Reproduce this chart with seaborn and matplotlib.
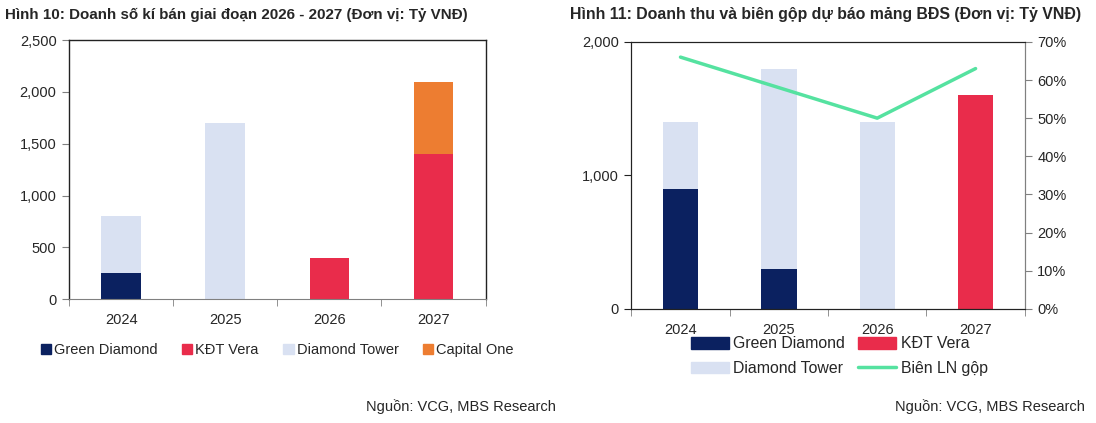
"""Hình 10 / Hình 11: doanh số kí bán và doanh thu BĐS VCG"""
import matplotlib
matplotlib.use("Agg")
import matplotlib.pyplot as plt
import seaborn as sns
import numpy as np
import pandas as pd
from matplotlib.patches import Patch
from matplotlib.lines import Line2D
from matplotlib.ticker import FuncFormatter, FixedLocator

sns.set_style("white")
plt.rcParams["font.family"] = ["Liberation Sans", "DejaVu Sans"]

years = ["2024", "2025", "2026", "2027"]

# Hình 10 - doanh số kí bán (tỷ VND)
sales_green = [250, 0, 0, 0]
sales_vera = [0, 0, 400, 1400]
sales_tower = [550, 1700, 0, 0]
sales_capital = [0, 0, 0, 700]

# Hình 11 - doanh thu (tỷ VND) và biên gộp
rev_green = [900, 300, 0, 0]
rev_vera = [0, 0, 0, 1600]
rev_tower = [500, 1500, 1400, 0]
margin = [0.66, 0.58, 0.50, 0.63]

C_GREEN = "#0B2160"
C_VERA = "#E92C4B"
C_TOWER = "#D9E1F2"
C_CAP = "#ED7D31"
C_LINE = "#55E2A0"


def stacked(ax, layers, width):
    # layers bottom-up: draw cumulative totals from tallest down
    cum = np.cumsum(np.array([l[0] for l in layers], dtype=float), axis=0)
    for i in range(len(layers) - 1, -1, -1):
        df = pd.DataFrame({"year": years, "val": cum[i]})
        sns.barplot(data=df, x="year", y="val", color=layers[i][1], width=width,
                    saturation=1, ax=ax, order=years, linewidth=0, edgecolor="none")


def style_x(ax):
    ax.set_xlim(-0.5, 3.5)
    ax.xaxis.set_minor_locator(FixedLocator([-0.5, 0.5, 1.5, 2.5, 3.5]))
    ax.tick_params(axis="x", which="major", length=0, pad=10, labelsize=10.5)
    ax.tick_params(axis="x", which="minor", length=5, color="#808080", bottom=True)
    ax.set_xlabel("")


fig = plt.figure(figsize=(10.96, 4.23), dpi=100)
fmt = FuncFormatter(lambda v, p: f"{v:,.0f}")

# ---- left chart
ax1 = fig.add_axes([0.063, 0.293, 0.380, 0.612])
stacked(ax1, [(sales_green, C_GREEN), (sales_vera, C_VERA),
              (sales_tower, C_TOWER), (sales_capital, C_CAP)], 0.38)
ax1.set_ylim(0, 2500)
ax1.set_yticks(range(0, 2501, 500))
ax1.yaxis.set_major_formatter(fmt)
ax1.set_ylabel("")
ax1.tick_params(axis="y", left=True, length=5, color="#808080", labelsize=10.5, pad=4)
style_x(ax1)
for s in ["top", "right", "left"]:
    ax1.spines[s].set_color("#222222")
    ax1.spines[s].set_linewidth(1)
ax1.spines["bottom"].set_color("#808080")
ax1.legend(handles=[Patch(color=C_GREEN, label="Green Diamond"),
                    Patch(color=C_VERA, label="KĐT Vera"),
                    Patch(color=C_TOWER, label="Diamond Tower"),
                    Patch(color=C_CAP, label="Capital One")],
           loc="upper center", bbox_to_anchor=(0.5, -0.12), ncol=4, frameon=False,
           fontsize=10.5, handlelength=0.7, handleheight=0.7, handletextpad=0.2,
           columnspacing=1.7)

fig.text(0.005, 0.965, "Hình 10: Doanh số kí bán giai đoạn 2026 - 2027 (Đơn vị: Tỷ VNĐ)",
         fontsize=10.9, fontweight="bold", va="center", ha="left")
fig.text(0.507, 0.04, "Nguồn: VCG, MBS Research", fontsize=10.5, ha="right", va="center")

# ---- right chart
ax2 = fig.add_axes([0.576, 0.270, 0.359, 0.631])
stacked(ax2, [(rev_green, C_GREEN), (rev_vera, C_VERA), (rev_tower, C_TOWER)], 0.36)
ax2.set_ylim(0, 2000)
ax2.set_yticks([0, 1000, 2000])
ax2.yaxis.set_major_formatter(fmt)
ax2.set_ylabel("")
ax2.tick_params(axis="y", left=True, length=5, color="#222222", labelsize=10.5, pad=4)
style_x(ax2)

ax3 = ax2.twinx()
sns.lineplot(x=[0, 1, 2, 3], y=margin, ax=ax3, color=C_LINE, linewidth=2.5, sort=False)
ax3.set_ylim(0, 0.70)
ax3.set_yticks(np.arange(0, 0.71, 0.10))
ax3.yaxis.set_major_formatter(FuncFormatter(lambda v, p: f"{v * 100:.0f}%"))
ax3.tick_params(axis="y", right=True, length=5, color="#808080", labelsize=10.5, pad=4)
ax3.set_ylabel("")
for a in (ax2, ax3):
    a.spines["top"].set_color("#222222")
    a.spines["left"].set_color("#222222")
    a.spines["right"].set_color("#808080")
    a.spines["bottom"].set_color("#222222")

ax2.legend(handles=[Patch(color=C_GREEN, label="Green Diamond"),
                    Patch(color=C_TOWER, label="Diamond Tower"),
                    Patch(color=C_VERA, label="KĐT Vera"),
                    Line2D([], [], color=C_LINE, lw=2.5, label="Biên LN gộp")],
           loc="upper center", bbox_to_anchor=(0.528, -0.05), ncol=2, frameon=False,
           fontsize=11.4, handlelength=2.4, handleheight=0.75, handletextpad=0.3,
           columnspacing=0.8, labelspacing=0.6)

fig.text(0.520, 0.965, "Hình 11: Doanh thu và biên gộp dự báo mảng BĐS (Đơn vị: Tỷ VNĐ)",
         fontsize=11.4, fontweight="bold", va="center", ha="left")
fig.text(0.990, 0.04, "Nguồn: VCG, MBS Research", fontsize=10.5, ha="right", va="center")

fig.savefig("out.png", dpi=100)
